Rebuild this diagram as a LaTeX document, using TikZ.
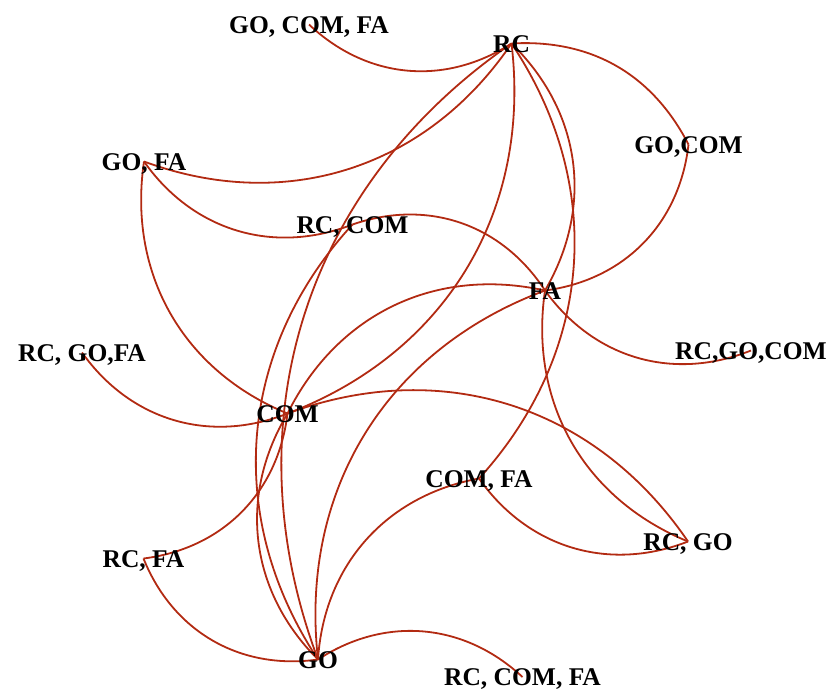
\documentclass[tikz,border=0pt]{standalone}
\usepackage{fontspec}
\setmainfont{Liberation Serif}
\definecolor{edgec}{RGB}{178,42,18}
\tikzset{
  lbl/.style={font=\bfseries\fontsize{25.5}{30}\selectfont, inner sep=0pt, anchor=base, text=black},
  link/.style={draw=edgec, line width=1.8pt},
}
\begin{document}
\begin{tikzpicture}[x=1pt,y=-1pt]
\useasboundingbox (0,0) rectangle (829,691);
% edge end points (label centres)
\coordinate (gocomfa) at (309,24.5);
\coordinate (rc) at (511.5,43.5);
\coordinate (gocom) at (688.5,144.5);
\coordinate (gofa) at (144,161.5);
\coordinate (rccom) at (352.5,224.5);
\coordinate (fa) at (545,290.5);
\coordinate (rcgofa) at (82,352.5);
\coordinate (rcgocom) at (751,350.5);
\coordinate (com) at (287.5,413.5);
\coordinate (comfa) at (479,478.5);
\coordinate (rcgo) at (688,541.5);
\coordinate (rcfa) at (143.5,558.5);
\coordinate (go) at (318,659.5);
\coordinate (rccomfa) at (522.5,677);
% connectors
\draw[link] (gocomfa) to[bend right=38] (rc);
\draw[link] (rc) to[bend left=33] (gocom);
\draw[link] (gocom) to[bend left=38] (fa);
\draw[link] (gofa) to[bend right=38] (rc);
\draw[link] (gofa) to[bend right=38] (rccom);
\draw[link] (gofa) to[bend right=38] (com);
\draw[link] (rccom) to[bend left=38] (fa);
\draw[link] (rccom) to[bend right=38] (go);
\draw[link] (rc) to[bend right=38] (go);
\draw[link] (rc) to[bend left=38] (com);
\draw[link] (rc) to[bend left=38] (fa);
\draw[link] (rc) to[bend left=38] (comfa);
\draw[link] (fa) to[bend right=38] (com);
\draw[link] (fa) to[bend right=38] (go);
\draw[link] (fa) to[bend right=38] (rcgo);
\draw[link] (fa) to[bend right=38] (rcgocom);
\draw[link] (rcgofa) to[bend right=38] (com);
\draw[link] (com) to[bend right=38] (go);
\draw[link] (com) to[bend left=38] (rcgo);
\draw[link] (com) to[bend left=38] (rcfa);
\draw[link] (comfa) to[bend right=38] (rcgo);
\draw[link] (comfa) to[bend right=38] (go);
\draw[link] (rcfa) to[bend right=38] (go);
\draw[link] (go) to[bend left=38] (rccomfa);
% labels
\node[lbl] (gocomfaT) at (309,33) {GO, COM, FA};
\node[lbl] (rcT) at (511.5,52) {RC};
\node[lbl] (gocomT) at (688.5,153) {GO,COM};
\node[lbl] (gofaT) at (144,170) {GO, FA};
\node[lbl] (rccomT) at (352.5,233) {RC, COM};
\node[lbl] (faT) at (545,299) {FA};
\node[lbl] (rcgofaT) at (82,361) {RC, GO,FA};
\node[lbl] (rcgocomT) at (751,359) {RC,GO,COM};
\node[lbl] (comT) at (287.5,422) {COM};
\node[lbl] (comfaT) at (479,487) {COM, FA};
\node[lbl] (rcgoT) at (688,550) {RC, GO};
\node[lbl] (rcfaT) at (143.5,567) {RC, FA};
\node[lbl] (goT) at (318,668) {GO};
\node[lbl] (rccomfaT) at (522.5,685.5) {RC, COM, FA};
\end{tikzpicture}
\end{document}
